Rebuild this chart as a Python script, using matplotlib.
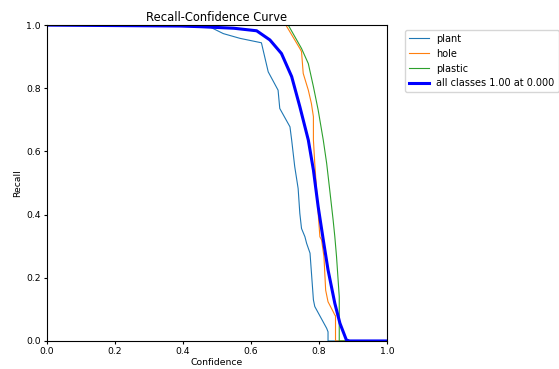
import matplotlib
matplotlib.use('Agg')
import matplotlib.pyplot as plt

# curve points (confidence, recall)
plant_c = [0.0, 0.47, 0.489, 0.519, 0.568, 0.631, 0.651, 0.680, 0.685, 0.715, 0.720, 0.729, 0.739, 0.744,
           0.749, 0.759, 0.764, 0.774, 0.784, 0.788, 0.823, 0.827, 0.827, 1.0]
plant_r = [1.0, 1.0, 0.989, 0.973, 0.958, 0.944, 0.852, 0.794, 0.736, 0.678, 0.636, 0.552, 0.483, 0.404,
           0.356, 0.330, 0.309, 0.278, 0.130, 0.109, 0.040, 0.029, 0.0, 0.0]

hole_c = [0.0, 0.703, 0.744, 0.749, 0.754, 0.769, 0.778, 0.784, 0.784, 0.788, 0.798, 0.803, 0.808,
          0.815, 0.820, 0.827, 0.842, 0.847, 0.849, 0.849, 1.0]
hole_r = [1.0, 1.0, 0.926, 0.916, 0.847, 0.794, 0.752, 0.710, 0.636, 0.562, 0.404, 0.330, 0.320,
          0.267, 0.161, 0.124, 0.093, 0.082, 0.080, 0.0, 0.0]

plastic_c = [0.0, 0.710, 0.749, 0.769, 0.784, 0.798, 0.813, 0.823, 0.832, 0.842, 0.847, 0.852, 0.860, 0.860, 1.0]
plastic_r = [1.0, 1.0, 0.926, 0.878, 0.805, 0.731, 0.636, 0.562, 0.478, 0.383, 0.330, 0.267, 0.140, 0.0, 0.0]

all_c = [0.0, 0.393, 0.45, 0.55, 0.617, 0.656, 0.690, 0.720, 0.744, 0.769, 0.784, 0.798, 0.813,
         0.827, 0.847, 0.862, 0.881, 0.890, 1.0]
all_r = [1.0, 0.997, 0.995, 0.99, 0.982, 0.953, 0.910, 0.837, 0.742, 0.636, 0.541, 0.425, 0.320,
         0.225, 0.119, 0.056, 0.003, 0.0, 0.0]

names = ['plant', 'hole', 'plastic']
all_label = 'all classes 1.00 at 0.000'

fig = plt.figure(figsize=(5.59, 3.69), dpi=100)
ax = fig.add_axes([0.084, 0.076, 0.608, 0.856])

ax.plot(plant_c, plant_r, lw=0.8, label=names[0], color='tab:blue')
ax.plot(hole_c, hole_r, lw=0.8, label=names[1], color='tab:orange')
ax.plot(plastic_c, plastic_r, lw=0.8, label=names[2], color='tab:green')
ax.plot(all_c, all_r, lw=2.2, color='blue', label=all_label)

ax.set_xlim(0, 1)
ax.set_ylim(0, 1)
ax.set_xlabel('Confidence', fontsize=6.7, labelpad=1)
ax.set_ylabel('Recall', fontsize=6.7, labelpad=3)
ax.set_title('Recall-Confidence Curve', fontsize=8.3, pad=3)
ax.tick_params(labelsize=6.7, length=2.5, pad=2)
ax.legend(bbox_to_anchor=(1.04, 1), loc='upper left', fontsize=7)

plt.savefig('out.png', dpi=100)
